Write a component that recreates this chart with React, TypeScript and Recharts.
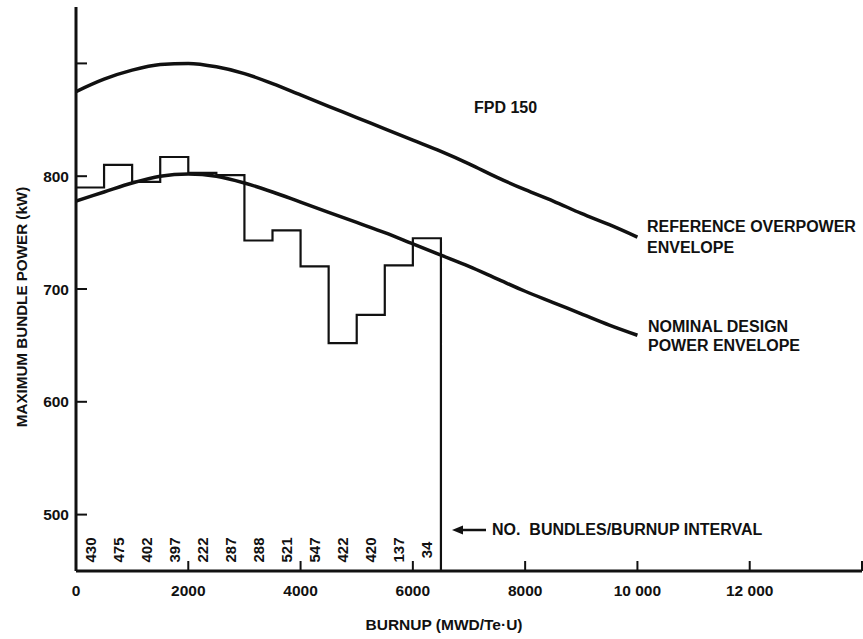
import { ComposedChart, Line, Scatter, XAxis, YAxis } from "recharts";

// Envelope curves, MWD/Te-U vs kW
const envelopeBurnup = [
  0, 500, 1000, 1500, 2000, 2500, 3000, 3500, 4000, 4500, 5000, 5500, 6000, 6500, 7000, 7500, 8000,
  8500, 9000, 9500, 10000,
];
const overpowerKw = [
  875, 886, 894, 899, 900, 897, 891, 882, 872, 862, 852, 842, 832, 822, 811, 799, 788, 778, 767, 757,
  746,
];
const nominalKw = [
  778, 786, 794, 800, 802, 800, 794, 786, 777, 768, 759, 750, 740, 730, 720, 709, 698, 688, 678, 668,
  659,
];

// Histogram of max bundle power per 500 MWD/Te-U burnup interval
const INTERVAL = 500;
const intervalStart = [0, 500, 1000, 1500, 2000, 2500, 3000, 3500, 4000, 4500, 5000, 5500, 6000];
const intervalMaxKw = [790, 810, 795, 817, 803, 801, 743, 752, 720, 652, 677, 721, 745];
const bundleCounts = [430, 475, 402, 397, 222, 287, 288, 521, 547, 422, 420, 137, 34];

const xTicks = [0, 2000, 4000, 6000, 8000, 10000, 12000, 14000];
const xTickLabels = ["0", "2000", "4000", "6000", "8000", "10 000", "12 000", ""];
const yTicks = [500, 600, 700, 800, 900];
const yTickLabels = ["500", "600", "700", "800", ""];

const Y_MIN = 450;
const Y_MAX = 950;
const X_MAX = 14000;

const INK = "#111111";
const FONT = "'Liberation Sans', Arial, Helvetica, sans-serif";

const overpowerData = envelopeBurnup.map((b, i) => ({ burnup: b, kw: overpowerKw[i] }));
const nominalData = envelopeBurnup.map((b, i) => ({ burnup: b, kw: nominalKw[i] }));

const lastEnd = intervalStart[intervalStart.length - 1] + INTERVAL;
const histogramData = [
  ...intervalStart.map((b, i) => ({ burnup: b, kw: intervalMaxKw[i] })),
  { burnup: lastEnd, kw: intervalMaxKw[intervalMaxKw.length - 1] },
  { burnup: lastEnd, kw: Y_MIN },
];

const countData = intervalStart.map((b, i) => ({
  burnup: b + INTERVAL / 2,
  kw: Y_MIN,
  count: bundleCounts[i],
}));

const textStyle = {
  fill: INK,
  fontFamily: FONT,
  fontWeight: 700,
  fontSize: 16,
};

const XTick = (props: any) => {
  const { x, y, payload } = props;
  const idx = xTicks.indexOf(payload.value);
  return (
    <g>
      {payload.value !== 0 && (
        <line x1={x} x2={x} y1={y} y2={y - 10} stroke={INK} strokeWidth={2} />
      )}
      <text x={x} y={y + 25} textAnchor="middle" {...textStyle} fontSize={15.5}>
        {xTickLabels[idx]}
      </text>
    </g>
  );
};

const YTick = (props: any) => {
  const { x, y, payload } = props;
  const idx = yTicks.indexOf(payload.value);
  return (
    <g>
      <line x1={x} x2={x + 11} y1={y} y2={y} stroke={INK} strokeWidth={2} />
      <text x={x - 7} y={y + 5.5} textAnchor="end" {...textStyle} fontSize={15.5}>
        {yTickLabels[idx]}
      </text>
    </g>
  );
};

const CountLabel = (props: any) => {
  const { cx, cy, payload } = props;
  const ty = cy - 21;
  return (
    <text
      x={cx}
      y={ty}
      transform={`rotate(-90 ${cx} ${ty})`}
      textAnchor="middle"
      dominantBaseline="central"
      {...textStyle}
      fontSize={15}
    >
      {payload.count}
    </text>
  );
};

export default function App() {
  return (
    <div
      style={{
        position: "absolute",
        left: 0,
        top: 0,
        width: 863,
        height: 639,
        background: "#ffffff",
      }}
    >
      <ComposedChart
        width={863}
        height={639}
        margin={{ top: 7, right: 1, bottom: 18, left: 16 }}
      >
        <XAxis
          type="number"
          dataKey="burnup"
          domain={[0, X_MAX]}
          ticks={xTicks}
          interval={0}
          height={50}
          tickLine={false}
          tickSize={0}
          tickMargin={0}
          tick={XTick}
          axisLine={{ stroke: INK, strokeWidth: 3 }}
          allowDataOverflow
        />
        <YAxis
          type="number"
          dataKey="kw"
          domain={[Y_MIN, Y_MAX]}
          ticks={yTicks}
          interval={0}
          width={60}
          tickLine={false}
          tickSize={0}
          tickMargin={0}
          tick={YTick}
          axisLine={{ stroke: INK, strokeWidth: 3 }}
          allowDataOverflow
        />
        <Line
          data={histogramData}
          dataKey="kw"
          type="stepAfter"
          stroke={INK}
          strokeWidth={2.2}
          dot={false}
          isAnimationActive={false}
        />
        <Line
          data={overpowerData}
          dataKey="kw"
          type="monotone"
          stroke={INK}
          strokeWidth={3.5}
          dot={false}
          isAnimationActive={false}
        />
        <Line
          data={nominalData}
          dataKey="kw"
          type="monotone"
          stroke={INK}
          strokeWidth={3.5}
          dot={false}
          isAnimationActive={false}
        />
        <Scatter
          data={countData}
          dataKey="kw"
          shape={CountLabel}
          isAnimationActive={false}
        />
      </ComposedChart>

      <svg
        width={863}
        height={639}
        style={{ position: "absolute", left: 0, top: 0, pointerEvents: "none" }}
      >
        <text
          x={21}
          y={307}
          transform="rotate(-90 21 307)"
          textAnchor="middle"
          dominantBaseline="central"
          {...textStyle}
          fontSize={15.2}
        >
          MAXIMUM BUNDLE POWER (kW)
        </text>
        <text x={444} y={630} textAnchor="middle" {...textStyle} fontSize={15.5}>
          BURNUP (MWD/Te·U)
        </text>
        <text x={474} y={113} {...textStyle}>
          FPD 150
        </text>
        <text x={647} y={232} {...textStyle}>
          REFERENCE OVERPOWER
        </text>
        <text x={647} y={253} {...textStyle}>
          ENVELOPE
        </text>
        <text x={648} y={332} {...textStyle}>
          NOMINAL DESIGN
        </text>
        <text x={648} y={351} {...textStyle}>
          POWER ENVELOPE
        </text>
        <line x1={460} x2={486} y1={530} y2={530} stroke={INK} strokeWidth={2.5} />
        <polygon points="452,530 463,525.5 463,534.5" fill={INK} />
        <text x={492} y={535} {...textStyle} style={{ whiteSpace: "pre" }}>
          {"NO.  BUNDLES/BURNUP INTERVAL"}
        </text>
      </svg>
    </div>
  );
}
